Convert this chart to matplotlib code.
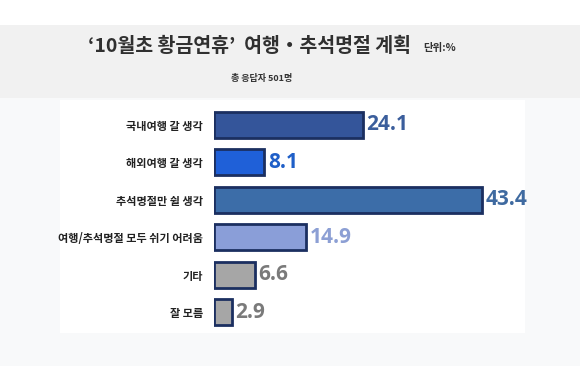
import matplotlib.pyplot as plt
from matplotlib.patches import Rectangle

plt.rcParams['font.family'] = ['Noto Sans CJK KR', 'DejaVu Sans']

categories = ['국내여행 갈 생각', '해외여행 갈 생각', '추석명절만 쉴 생각',
              '여행/추석명절 모두 쉬기 어려움', '기타', '잘 모름']
values = [24.1, 8.1, 43.4, 14.9, 6.6, 2.9]
bar_colors = ['#34559a', '#1f60d8', '#3c6da8', '#8a9ed8', '#a6a6a6', '#a6a6a6']
label_colors = ['#3b5e9c', '#1f5fc8', '#3f6aa0', '#8c9fd4', '#7a7a7a', '#7a7a7a']

W, H = 580, 366
fig = plt.figure(figsize=(W / 100, H / 100), dpi=100, facecolor='#f8f9fa')

# header band and white plot zone
fig.patches.append(Rectangle((0, 1 - 25 / H), 1, 25 / H, transform=fig.transFigure,
                             facecolor='white', zorder=0))
fig.patches.append(Rectangle((0, 1 - 98 / H), 1, 73 / H, transform=fig.transFigure,
                             facecolor='#f1f1f1', zorder=0))
fig.patches.append(Rectangle((60 / W, 1 - 333 / H), 465 / W, 233 / H, transform=fig.transFigure,
                             facecolor='white', zorder=0))

fig.text(250 / W, 1 - 46 / H, '‘10월초 황금연휴’  여행・추석명절 계획', ha='center', va='center',
         fontsize=14, fontweight='heavy', color='#303030')
fig.text(423 / W, 1 - 48 / H, '단위:%', ha='left', va='center', fontsize=7.5,
         fontweight='bold', color='#333333')
fig.text(262 / W, 1 - 79 / H, '총 응답자 501명', ha='center', va='center', fontsize=6.5,
         fontweight='bold', color='#333333')

ax = fig.add_axes([214 / W, 1 - 331 / H, 309 / W, 225 / H])
ax.set_zorder(5)
ax.set_facecolor('none')
y = list(range(len(values)))
ax.barh(y, values, height=0.7, color=bar_colors, edgecolor='#1b2f60', linewidth=2)
for yi, v, c in zip(y, values, label_colors):
    ax.text(v + 0.6, yi, f'{v}', ha='left', va='center', fontsize=15,
            fontweight='bold', color=c, family=['Open Sans', 'DejaVu Sans'])
ax.set_xlim(0, 50)
ax.set_ylim(len(values) - 0.5, -0.5)
ax.set_yticks(y)
ax.set_yticklabels(categories, fontsize=8, fontweight='bold', color='#222222')
ax.tick_params(axis='y', length=0, pad=8)
ax.set_xticks([])
for s in ax.spines.values():
    s.set_visible(False)

fig.savefig('out.png', dpi=100, facecolor=fig.get_facecolor())
